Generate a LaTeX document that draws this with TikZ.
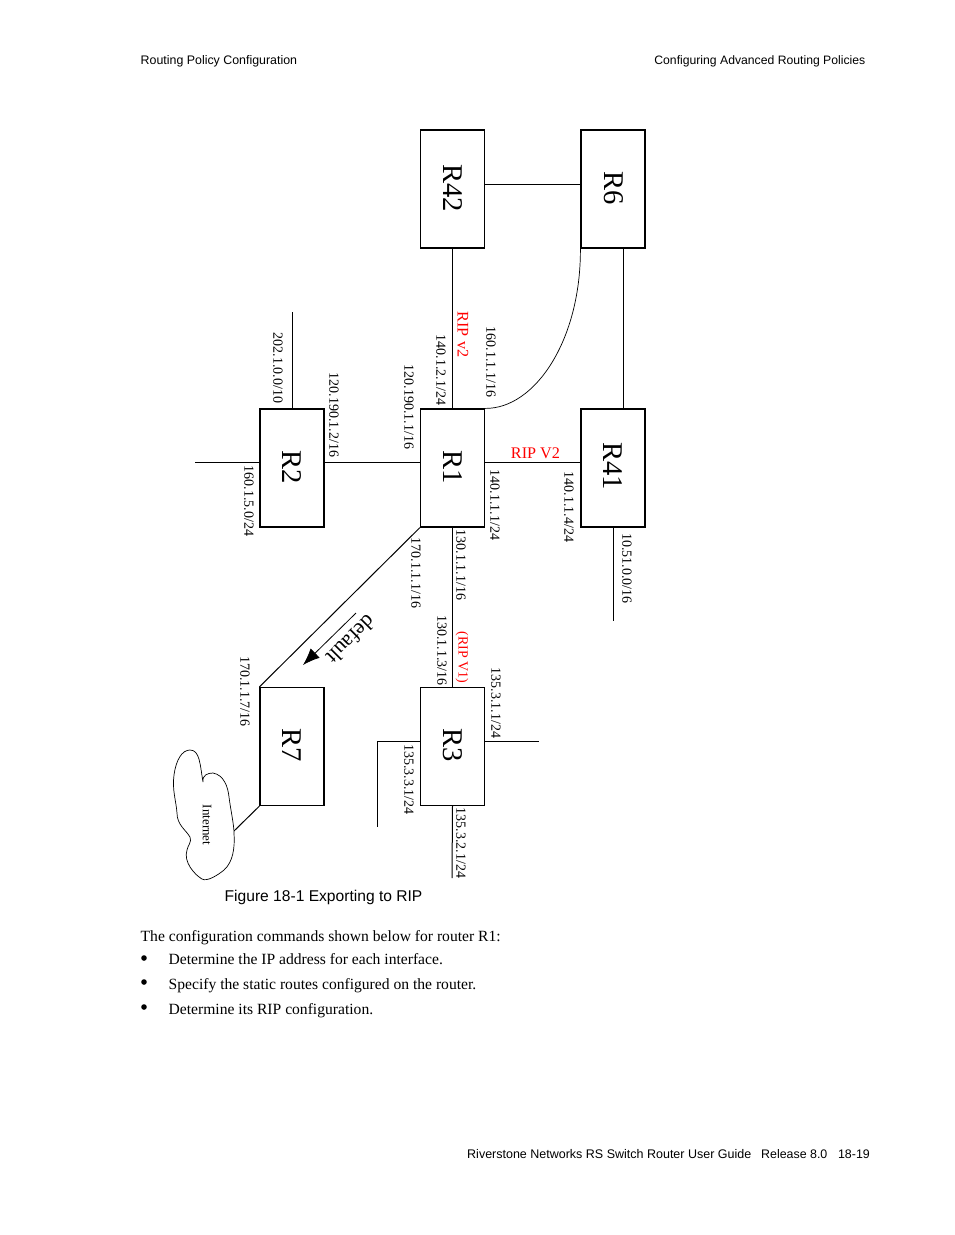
\documentclass[tikz,border=0pt]{standalone}
\usepackage{fontspec}
\setmainfont{Liberation Serif}
\newfontfamily\arialf{Liberation Sans}
\usetikzlibrary{arrows.meta}
\definecolor{ripred}{RGB}{255,0,0}
\tikzset{
  router/.style={draw=black,line width=1.2pt,fill=white,minimum width=64pt,minimum height=118pt,inner sep=0pt},
  routerlabel/.style={rotate=-90,inner sep=0pt,font=\fontsize{28.6}{30}\selectfont},
  iplabel/.style={rotate=-90,inner sep=0pt,font=\fontsize{14}{15}\selectfont},
  riplabel/.style={inner sep=0pt,text=ripred,font=\fontsize{16.2}{18}\selectfont},
  link/.style={line width=1pt,draw=black},
  sanstext/.style={inner sep=0pt,font=\arialf\fontsize{12.4}{14}\selectfont},
  bodytext/.style={inner sep=0pt,font=\fontsize{15.6}{18}\selectfont},
  x=1pt,y=-1pt
}
\begin{document}
\begin{tikzpicture}
\useasboundingbox (0,0) rectangle (954,1235);
% routers
\node[router] (R42) at (452.5,189) {};
\node[router] (R6) at (613,189) {};
\node[router] (R1) at (452.5,468) {};
\node[router] (R2) at (292,468) {};
\node[router] (R41) at (613,468) {};
\node[router] (R7) at (292,746.5) {};
\node[router] (R3) at (452.5,746.5) {};
\node[routerlabel] (tR42) at (453,188) {R42};
\node[routerlabel] (tR6) at (614,188) {R6};
\node[routerlabel] (tR1) at (453,467) {R1};
\node[routerlabel] (tR2) at (292,467) {R2};
\node[routerlabel] (tR41) at (613,466) {R41};
\node[routerlabel] (tR7) at (292,745) {R7};
\node[routerlabel] (tR3) at (453,745) {R3};
% free ends
\coordinate (a2n) at (292,312);
\coordinate (a2w) at (195,462);
\coordinate (a41s) at (613,621);
\coordinate (a3e) at (538.5,741);
\coordinate (a3w) at (377,741);
\coordinate (a3wd) at (377,826.5);
\coordinate (a3s) at (452,878);
\coordinate (arrA) at (356,613);
\coordinate (arrB) at (303,665);
% connectors
\draw[link] (R42.east |- 0,184) -- (R6.west |- 0,184);
\draw[link] (R42.south) -- (R1.north);
\draw[link] (623,0 |- R6.south) -- (623,0 |- R41.north);
\draw[link,line width=.7pt] (R6.south west) .. controls (581,340) and (535,409) .. (R1.north east);
\draw[link] (R2.east |- 0,462) -- (R1.west |- 0,462);
\draw[link] (R1.east |- 0,462) -- (R41.west |- 0,462);
\draw[link] (R1.south) -- (R3.north);
\draw[link] (R1.south west) -- (R7.north west);
\draw[link] (R7.south west) -- (234,831);
\draw[link] (R2.north) -- (a2n);
\draw[link] (R2.west |- a2w) -- (a2w);
\draw[link] (613,0 |- R41.south) -- (a41s);
\draw[link] (R3.east |- a3e) -- (a3e);
\draw[link] (R3.west |- a3w) -- (a3w) -- (a3wd);
\draw[link] (R3.south) -- (a3s);
\draw[line width=.8pt,-{Latex[length=17pt,width=13pt]}] (arrA) -- (arrB);
% cloud
\draw[line width=.7pt,fill=white] (190,750)
  .. controls (200,750) and (200,765) .. (203,782)
  .. controls (202,775) and (208,773) .. (213,773)
  .. controls (224,775) and (228,787) .. (229,797)
  .. controls (231,812) and (234,825) .. (234,833)
  .. controls (235,848) and (233,862) .. (224,870)
  .. controls (218,875) and (207,882) .. (202,879)
  .. controls (195,875) and (183,862) .. (187,850)
  .. controls (188,845) and (192,842) .. (190,837)
  .. controls (186,830) and (177,825) .. (177,813)
  .. controls (176,800) and (172,790) .. (174,775)
  .. controls (176,760) and (182,750) .. (190,750) -- cycle;
\node[rotate=-90,inner sep=0pt,font=\fontsize{13}{14}\selectfont] (inet) at (207,825) {Internet};
% labels
\node[iplabel] (l1) at (278,368) {202.1.0.0/10};
\node[iplabel] (l2) at (334,415) {120.190.1.2/16};
\node[iplabel] (l3) at (409,407) {120.190.1.1/16};
\node[iplabel] (l4) at (441,370) {140.1.2.1/24};
\node[riplabel,rotate=-90] (l5) at (463,334.5) {RIP v2};
\node[iplabel] (l6) at (491,362) {160.1.1.1/16};
\node[iplabel] (l7) at (249,501) {160.1.5.0/24};
\node[iplabel] (l8) at (495,505) {140.1.1.1/24};
\node[riplabel] (l9) at (535.5,453.5) {RIP V2};
\node[iplabel] (l10) at (569,507) {140.1.1.4/24};
\node[iplabel] (l11) at (627,568.5) {10.51.0.0/16};
\node[iplabel] (l12) at (416,573) {170.1.1.1/16};
\node[iplabel] (l13) at (461,565) {130.1.1.1/16};
\node[iplabel] (l14) at (442,650.5) {130.1.1.3/16};
\node[riplabel,rotate=-90,font=\fontsize{14}{15}\selectfont] (l15) at (462,657.5) {(RIP V1)};
\node[iplabel] (l16) at (496,703) {135.3.1.1/24};
\node[iplabel] (l17) at (245,691.5) {170.1.1.7/16};
\node[iplabel] (l18) at (409,779.5) {135.3.3.1/24};
\node[iplabel] (l19) at (461,843) {135.3.2.1/24};
\node[rotate=-135,inner sep=0pt,font=\fontsize{21.5}{23}\selectfont] (l20) at (351,640) {default};
% page text
\node[sanstext,anchor=base west] (h1) at (140.5,64) {Routing Policy Configuration};
\node[sanstext,anchor=base east,font=\arialf\fontsize{12.2}{14}\selectfont] (h2) at (865.5,64) {Configuring Advanced Routing Policies};
\node[inner sep=0pt,anchor=base west,font=\arialf\fontsize{15.6}{18}\selectfont] (cap) at (224.5,901) {Figure 18-1 Exporting to RIP};
\node[bodytext,anchor=base west] (b0) at (140.5,941) {The configuration commands shown below for router R1:};
\node[bodytext,anchor=base west] (b1) at (168.5,964) {Determine the IP address for each interface.};
\node[bodytext,anchor=base west] (b2) at (168.5,989) {Specify the static routes configured on the router.};
\node[bodytext,anchor=base west] (b3) at (168.5,1014) {Determine its RIP configuration.};
\fill (144,958) circle (2.8pt) (144,982) circle (2.8pt) (144,1007) circle (2.8pt);
\node[sanstext,anchor=base west,font=\arialf\fontsize{12.5}{14}\selectfont] (f1) at (467,1158) {Riverstone Networks RS Switch Router User Guide};
\node[sanstext,anchor=base west] (f2) at (761,1158) {Release 8.0};
\node[sanstext,anchor=base east] (f3) at (870,1158) {18-19};
\end{tikzpicture}
\end{document}
